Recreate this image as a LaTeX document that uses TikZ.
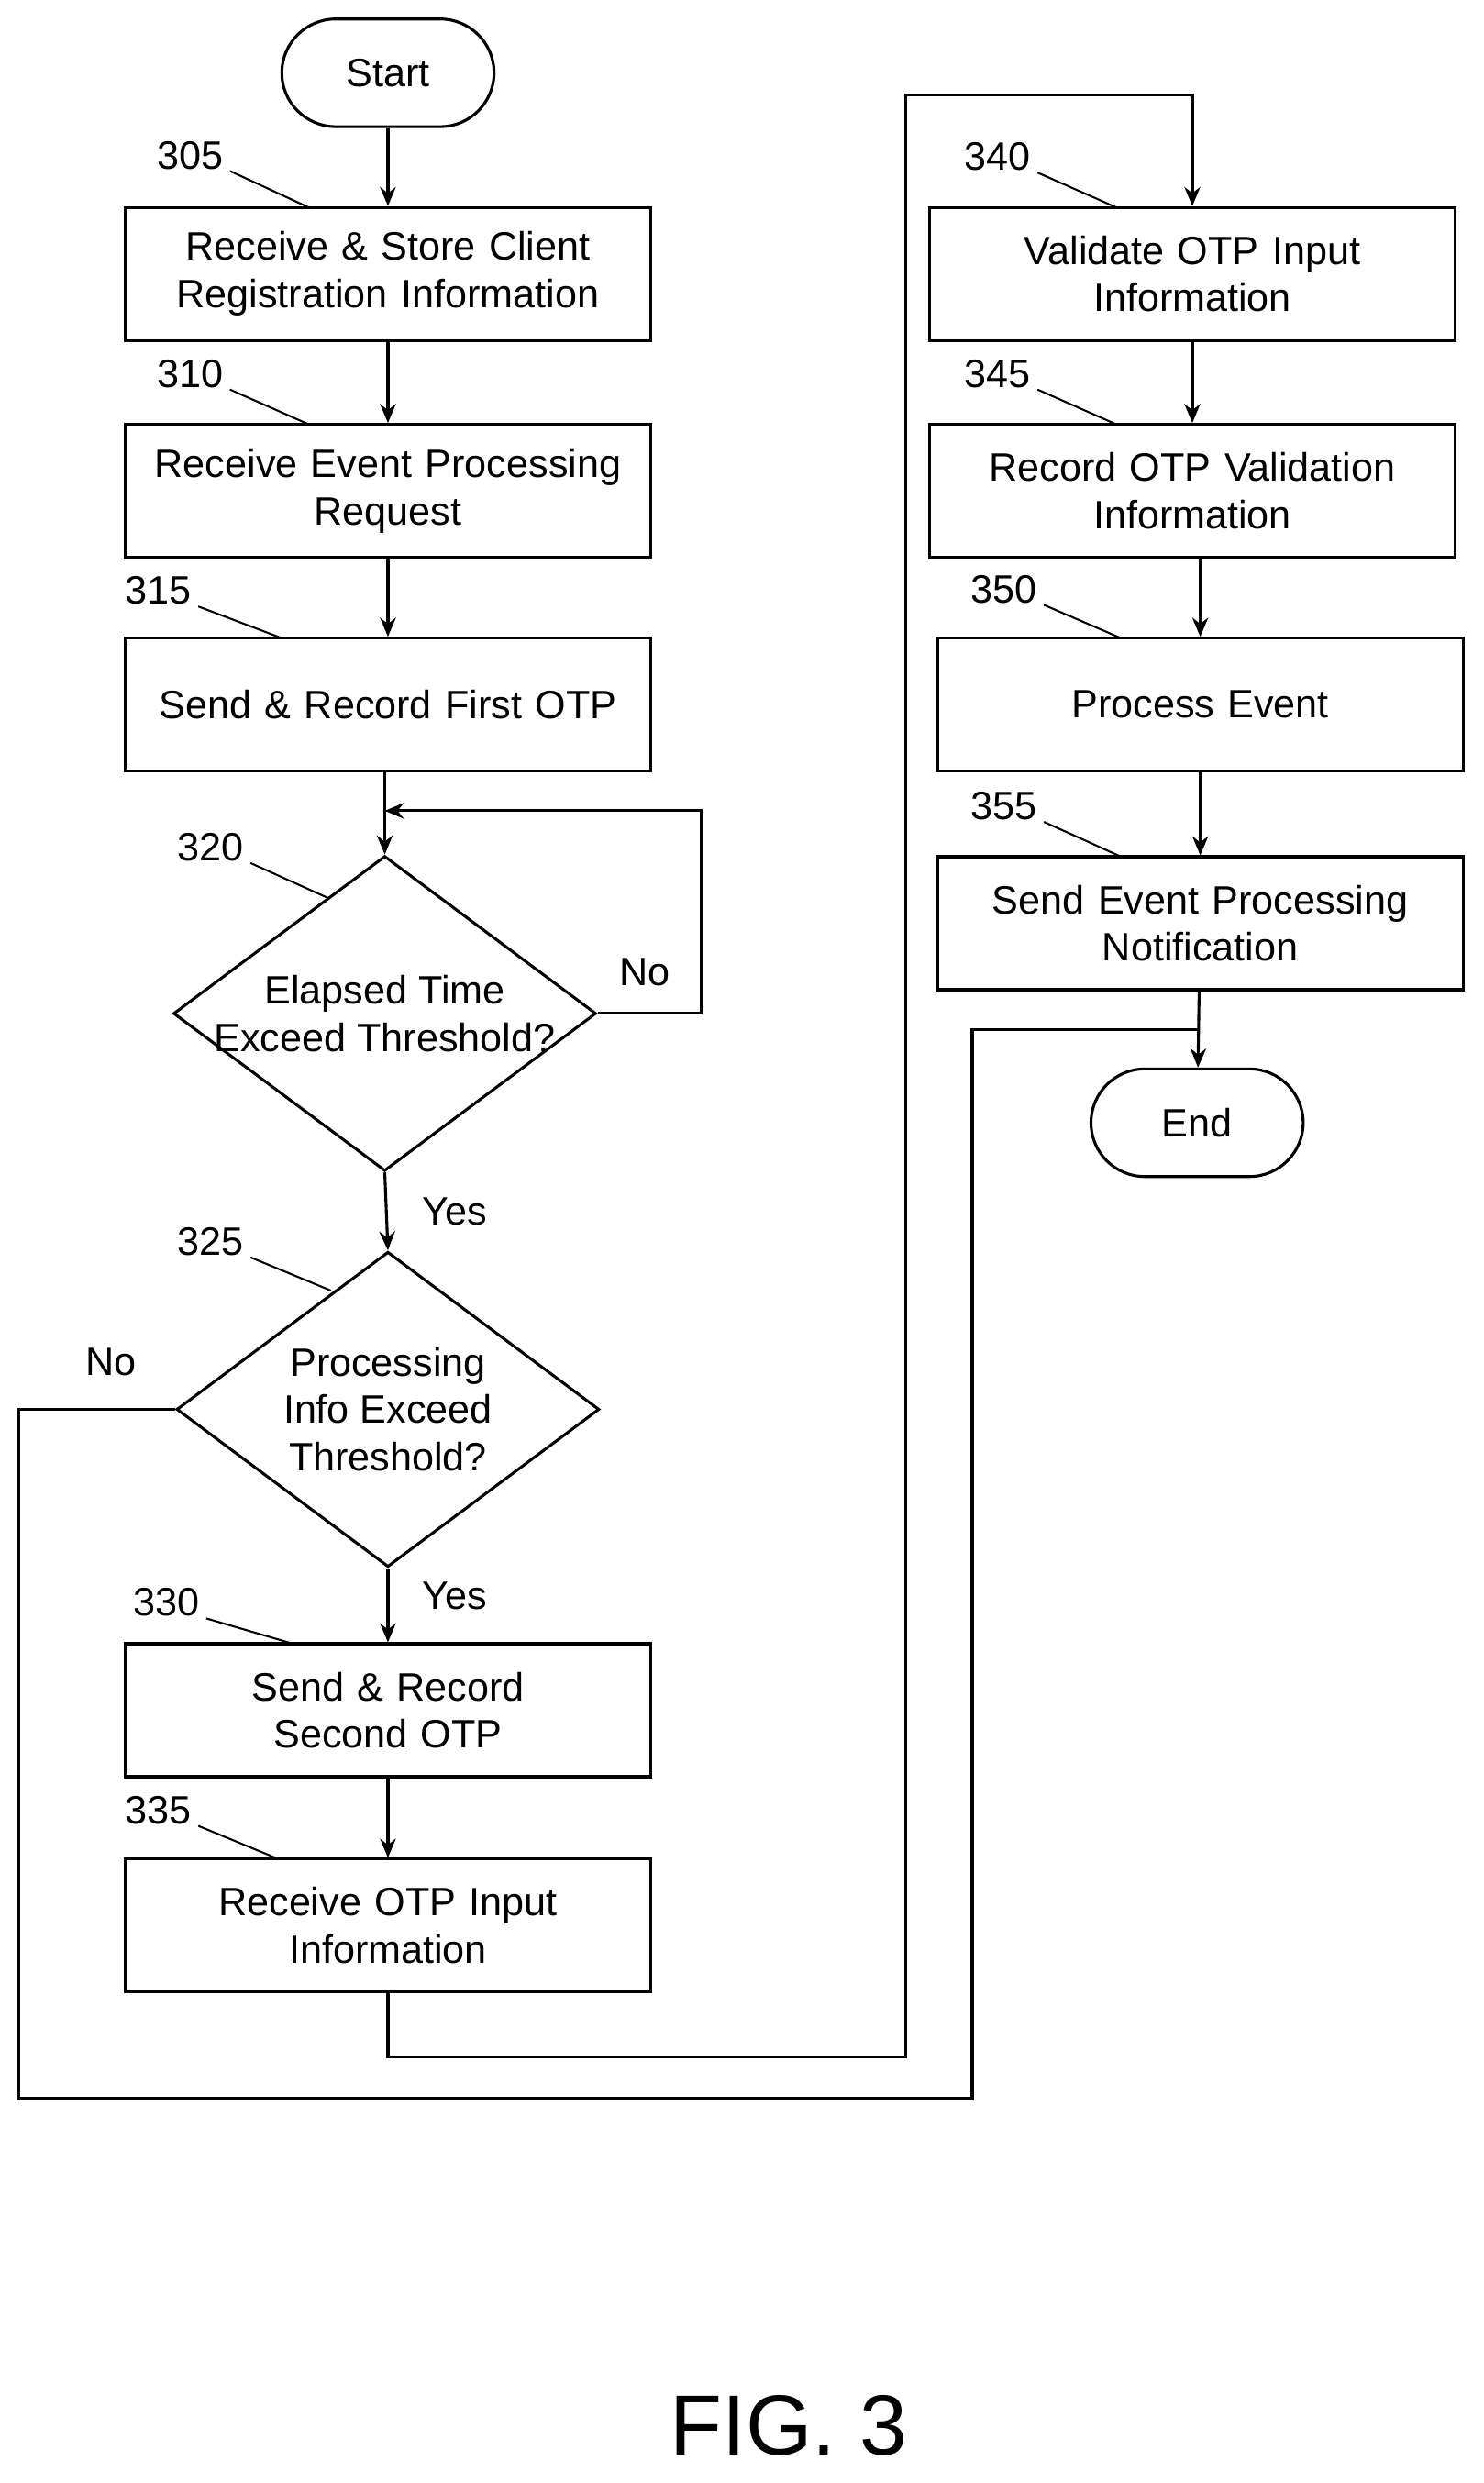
\documentclass[tikz,border=0pt]{standalone}
\usepackage{fontspec}
\setmainfont{Liberation Sans}
\usetikzlibrary{shapes.geometric,arrows.meta}
\begin{document}
\begin{tikzpicture}[x=0.5pt,y=-0.5pt,
  every node/.style={font=\fontsize{12.5}{15}\selectfont},
  box/.style={draw,line width=0.9pt,minimum width=166pt,minimum height=42pt,inner sep=0pt,align=center,text width=160pt},
  term/.style={draw,line width=0.9pt,rounded corners=17pt,minimum width=67pt,minimum height=34pt,inner sep=0pt},
  dia/.style={draw,line width=0.9pt,diamond,minimum width=133.5pt,minimum height=99.5pt,inner sep=0pt},
  txt/.style={align=center,inner sep=0pt},
  arr/.style={line width=0.9pt,-{Stealth[length=6pt,width=5pt]}},
  ln/.style={line width=0.9pt},
  lead/.style={line width=0.6pt}]
\useasboundingbox (0,0) rectangle (937,1568);
\node[term] (start) at (245,46) {Start};
\node[box] (b305) at (245,173) {Receive \& Store Client\\Registration Information};
\node[box] (b310) at (245,310) {Receive Event Processing\\Request};
\node[box] (b315) at (245,445) {Send \& Record First OTP};
\node[dia] (d320) at (243,640) {};
\node[txt] at (243,640) {Elapsed Time\\Exceed Threshold?};
\node[dia] (d325) at (245,890) {};
\node[txt] at (245,890) {Processing\\Info Exceed\\Threshold?};
\node[box] (b330) at (245,1080) {Send \& Record Second OTP};
\node[box] (b335) at (245,1216) {Receive OTP Input\\Information};
\node[box] (b340) at (753,173) {Validate OTP Input\\Information};
\node[box] (b345) at (753,310) {Record OTP Validation\\Information};
\node[box] (b350) at (758,445) {Process Event};
\node[box] (b355) at (758,583) {Send Event Processing\\Notification};
\node[term] (end) at (756,709) {End};

\coordinate (j1) at (243,512);
\coordinate (e1) at (443,640);
\coordinate (e2) at (443,512);
\coordinate (n1) at (12,890);
\coordinate (n2) at (12,1325);
\coordinate (n3) at (614,1325);
\coordinate (n4) at (614,650);
\coordinate (n5) at (756,650);
\coordinate (m1) at (245,1299);
\coordinate (m2) at (572,1299);
\coordinate (m3) at (572,60);
\coordinate (m4) at (753,60);

\draw[arr] (start) -- (b305);
\draw[arr] (b305) -- (b310);
\draw[arr] (b310) -- (b315);
\draw[arr] (b315.south -| d320.north) -- (d320.north);
\draw[arr] (d320.east) -- (e1) -- (e2) -- (j1);
\draw[arr] (d320.south) -- (d325.north);
\draw[arr] (d325.south) -- (b330.north);
\draw[arr] (b330) -- (b335);
\draw[arr] (b335.south) -- (m1) -- (m2) -- (m3) -- (m4) -- (b340.north);
\draw[arr] (b340) -- (b345);
\draw[arr] (b345.south -| b350.north) -- (b350.north);
\draw[arr] (b350) -- (b355);
\draw[arr] (b355) -- (end);
\draw[ln] (d325.west) -- (n1) -- (n2) -- (n3) -- (n4) -- (n5);

\node[txt] (yes1) at (287,765) {Yes};
\node[txt] (yes2) at (287,1008) {Yes};
\node[txt] (no1) at (407,614) {No};
\node[txt] (no2) at (70,860) {No};

\node[txt] (l305) at (120,98) {305};
\node[txt] (l310) at (120,236) {310};
\node[txt] (l315) at (100,373) {315};
\node[txt] (l320) at (133,535) {320};
\node[txt] (l325) at (133,784) {325};
\node[txt] (l330) at (105,1012) {330};
\node[txt] (l335) at (100,1143) {335};
\node[txt] (l340) at (630,99) {340};
\node[txt] (l345) at (630,236) {345};
\node[txt] (l350) at (634,372) {350};
\node[txt] (l355) at (634,509) {355};
\coordinate (t305) at (195,131); \coordinate (t310) at (195,268);
\coordinate (t315) at (178,403); \coordinate (t320) at (207,567);
\coordinate (t325) at (209,815); \coordinate (t330) at (185,1038);
\coordinate (t335) at (176,1174); \coordinate (t340) at (705,131);
\coordinate (t345) at (705,268); \coordinate (t350) at (708,403);
\coordinate (t355) at (708,541);
\foreach \n in {305,310,315,320,325,330,335,340,345,350,355}
  \draw[lead] ([xshift=2pt,yshift=-5pt]l\n.east) -- (t\n);

\node[txt,font=\fontsize{27}{30}\selectfont] (fig) at (498,1532) {FIG. 3};
\end{tikzpicture}
\end{document}
